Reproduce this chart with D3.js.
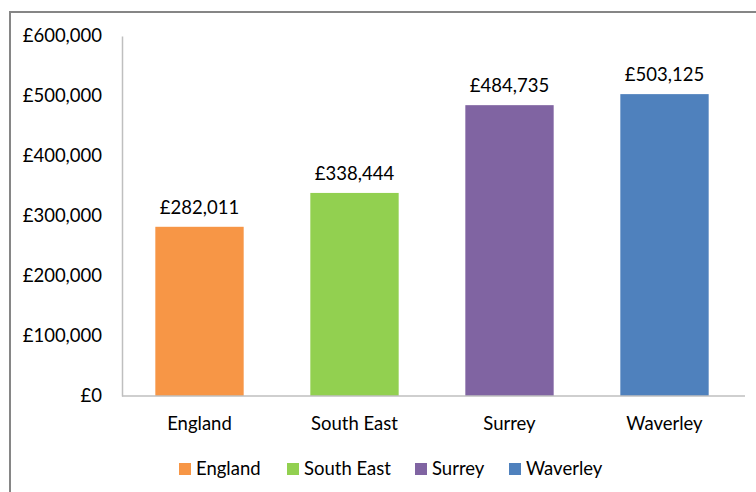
<!DOCTYPE html>
<html><head><meta charset="utf-8">
<script src="https://cdn.jsdelivr.net/npm/d3@7/dist/d3.min.js"></script>
<style>body{margin:0;background:#fff}svg{display:block}text{font-family:Lato,"Open Sans",sans-serif;fill:#000}</style>
</head><body>
<script>
const categories = ["England", "South East", "Surrey", "Waverley"];
const values = [282011, 338444, 484735, 503125];
const colors = ["#F79646", "#92D050", "#8064A2", "#4F81BD"];
const yTicks = [0, 100000, 200000, 300000, 400000, 500000, 600000];

const W = 756, H = 492, FS = 18.5;
const svg = d3.select("body").append("svg").attr("width", W).attr("height", H);
svg.append("rect").attr("x", 10).attr("y", 12).attr("width", 760).attr("height", 500)
  .attr("fill", "none").attr("stroke", "#868686").attr("stroke-width", 2);

const x = d3.scaleBand().domain(categories).range([122, 742]).paddingInner(0.43).paddingOuter(0.215);
const y = d3.scaleLinear().domain([0, 600000]).range([396, 36]);
const fmt = v => "£" + d3.format(",")(v);

const g = svg.append("g");
g.selectAll("rect.bar").data(values).join("rect").attr("class", "bar")
  .attr("x", (d, i) => x(categories[i])).attr("width", x.bandwidth())
  .attr("y", d => y(d)).attr("height", d => y(0) - y(d)).attr("fill", (d, i) => colors[i]);

g.selectAll("text.lbl").data(values).join("text").attr("class", "lbl")
  .attr("x", (d, i) => x(categories[i]) + x.bandwidth() / 2).attr("y", d => y(d) - 13)
  .attr("text-anchor", "middle").attr("font-size", FS).text(fmt);

const yAxis = svg.append("g").attr("transform", "translate(122,0)")
  .call(d3.axisLeft(y).tickValues(yTicks).tickSize(0).tickPadding(20).tickFormat(fmt));
yAxis.select(".domain").attr("stroke", "#bfbfbf").attr("stroke-width", 1.5);
yAxis.selectAll("text").attr("font-size", FS).style("font-family", "Lato,sans-serif");

const xAxis = svg.append("g").attr("transform", "translate(0,396)")
  .call(d3.axisBottom(x).tickSize(0).tickPadding(21));
xAxis.select(".domain").attr("stroke", "#bfbfbf").attr("stroke-width", 1.5).attr("d", "M122,0H745");
xAxis.selectAll("text").attr("font-size", FS).style("font-family", "Lato,sans-serif");

const legX = [179, 287, 415, 509];
const leg = svg.append("g");
categories.forEach((c, i) => {
  leg.append("rect").attr("x", legX[i]).attr("y", 463).attr("width", 12).attr("height", 12).attr("fill", colors[i]);
  leg.append("text").attr("x", legX[i] + 17).attr("y", 475).attr("font-size", FS).text(c);
});
</script>
</body></html>
